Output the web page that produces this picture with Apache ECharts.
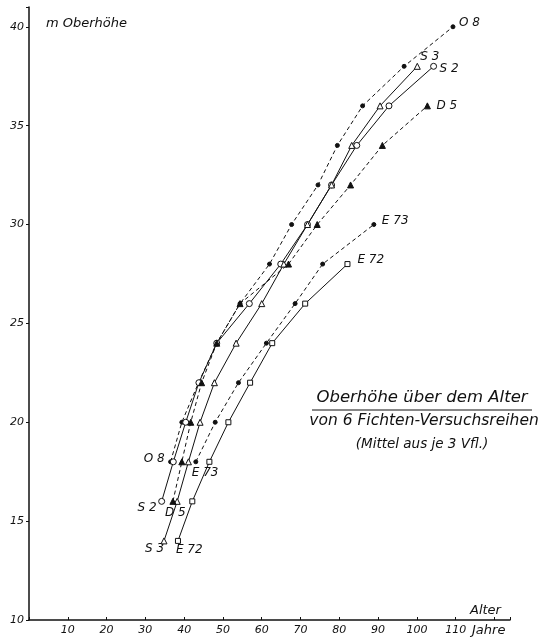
<!DOCTYPE html>
<html>
<head>
<meta charset="utf-8">
<script src="https://cdn.jsdelivr.net/npm/echarts@6/dist/echarts.min.js"></script>
<style>
html,body{margin:0;padding:0;background:#fff;}
#c{width:541px;height:637px;}
</style>
</head>
<body>
<div id="c"></div>
<script>
// ---- data (age in years, top height in m) ----
const xTicks = [10,20,30,40,50,60,70,80,90,100,110];
const yTicks = [10,15,20,25,30,35,40];

const o8Age  = [36.5,39.4,43.7,48.4,54.4,62.0,67.7,74.5,79.5,86.0,96.7,109.3];
const o8H    = [18,20,22,24,26,28,30,32,34,36,38,40];

const s2Age  = [34.2,37.2,40.4,43.8,48.4,56.8,64.9,71.8,78.0,84.5,92.8,104.3];
const s2H    = [16,18,20,22,24,26,28,30,32,34,36,38];

const s3Age  = [34.8,38.2,41.1,44.1,47.8,53.4,60.0,65.7,71.8,78.0,83.2,90.5,100.1];
const s3H    = [14,16,18,20,22,24,26,28,30,32,34,36,38];

const d5Age  = [37.1,39.4,41.7,44.5,48.4,54.4,66.9,74.3,82.9,91.1,102.7];
const d5H    = [16,18,20,22,24,26,28,30,32,34,36];

const e73Age = [43.0,48.0,54.0,61.2,68.6,75.7,88.9];
const e73H   = [18,20,22,24,26,28,30];

const e72Age = [38.4,42.1,46.5,51.4,57.0,62.7,71.2,82.1];
const e72H   = [14,16,18,20,22,24,26,28];

const seriesNames = ['O 8','S 2','S 3','D 5','E 73','E 72'];

const FONT = 'DejaVu Sans';
const INK = '#111';

function pairs(a,h){ return a.map((v,i)=>[v,h[i]]); }

const dashed = {color:INK, width:1, type:[4,3]};
const solid  = {color:INK, width:1, type:'solid'};

const defs = [
  {name:seriesNames[0], data:pairs(o8Age,o8H),  symbol:'circle',   size:4, fill:INK,    line:dashed},
  {name:seriesNames[1], data:pairs(s2Age,s2H),  symbol:'circle',   size:6, fill:'#fff', line:solid},
  {name:seriesNames[2], data:pairs(s3Age,s3H),  symbol:'triangle', size:6, fill:'#fff', line:solid},
  {name:seriesNames[3], data:pairs(d5Age,d5H),  symbol:'triangle', size:6, fill:INK,    line:dashed},
  {name:seriesNames[4], data:pairs(e73Age,e73H),symbol:'circle',   size:4, fill:INK,    line:dashed},
  {name:seriesNames[5], data:pairs(e72Age,e72H),symbol:'rect',     size:5, fill:'#fff', line:solid}
];

const chart = echarts.init(document.getElementById('c'), null, {renderer:'canvas'});

const option = {
  animation:false,
  backgroundColor:'#fff',
  grid:{left:29, right:31, top:7, bottom:17, containLabel:false},
  xAxis:{
    type:'value', min:0, max:124, interval:10,
    axisLine:{show:true, onZero:false, lineStyle:{color:INK, width:1.5}},
    axisTick:{show:true, inside:true, length:3, lineStyle:{color:INK}},
    splitLine:{show:false},
    axisLabel:{
      margin:5, color:INK, fontFamily:FONT, fontStyle:'italic', fontSize:11,
      formatter:v => xTicks.indexOf(v) >= 0 ? String(v) : ''
    }
  },
  yAxis:{
    type:'value', min:10, max:41, interval:5,
    axisLine:{show:true, onZero:false, lineStyle:{color:INK, width:1.5}},
    axisTick:{show:true, inside:false, length:3, lineStyle:{color:INK}},
    splitLine:{show:false},
    axisLabel:{
      margin:5, color:INK, fontFamily:FONT, fontStyle:'italic', fontSize:11,
      formatter:v => yTicks.indexOf(v) >= 0 ? String(v) : ''
    }
  },
  series: defs.map(d => ({
    type:'line', name:d.name, data:d.data,
    symbol:d.symbol, symbolSize:d.size, showAllSymbol:true,
    lineStyle:d.line,
    itemStyle:{color:d.fill, borderColor:INK, borderWidth:1},
    emphasis:{disabled:true},
    z: 3
  }))
};
chart.setOption(option);

// ---- text annotations ----
function txt(x,y,text,size,align){
  return {type:'text', x:x, y:y, silent:true,
    style:{text:text, fill:INK, font:'italic '+size+'px "'+FONT+'"', textAlign:align||'left', textVerticalAlign:'middle'}};
}

// label placements relative to first/last point of each series: [dx, dy, align]
const endPlace   = {'O 8':[6,-4,'left'], 'S 3':[3,-9,'left'], 'S 2':[6,3,'left'], 'D 5':[9,0,'left'], 'E 73':[8,-4,'left'], 'E 72':[10,-4,'left']};
const startPlace = {'O 8':[-6,-3,'right'], 'E 73':[-4,11,'left'], 'S 2':[-5,7,'right'], 'D 5':[-8,12,'left'], 'S 3':[-19,8,'left'], 'E 72':[-2,9,'left']};

const g = [];
defs.forEach(d => {
  const first = chart.convertToPixel({gridIndex:0}, d.data[0]);
  const last  = chart.convertToPixel({gridIndex:0}, d.data[d.data.length-1]);
  const e = endPlace[d.name], s = startPlace[d.name];
  g.push(txt(last[0]+e[0], last[1]+e[1], d.name, 12, e[2]));
  g.push(txt(first[0]+s[0], first[1]+s[1], d.name, 12, s[2]));
});

g.push(txt(46, 24, 'm Oberhöhe', 13, 'left'));
g.push(txt(470, 611, 'Alter', 13, 'left'));
g.push(txt(472, 631, 'Jahre', 13, 'left'));

g.push(txt(422, 398, 'Oberhöhe über dem Alter', 16.5, 'center'));
g.push({type:'line', silent:true, shape:{x1:312, y1:410, x2:532, y2:410}, style:{stroke:INK, lineWidth:1}});
g.push(txt(424, 421, 'von 6 Fichten-Versuchsreihen', 15.5, 'center'));
g.push(txt(422, 444, '(Mittel aus je 3 Vfl.)', 13.5, 'center'));

chart.setOption({graphic: g});
</script>
</body>
</html>
